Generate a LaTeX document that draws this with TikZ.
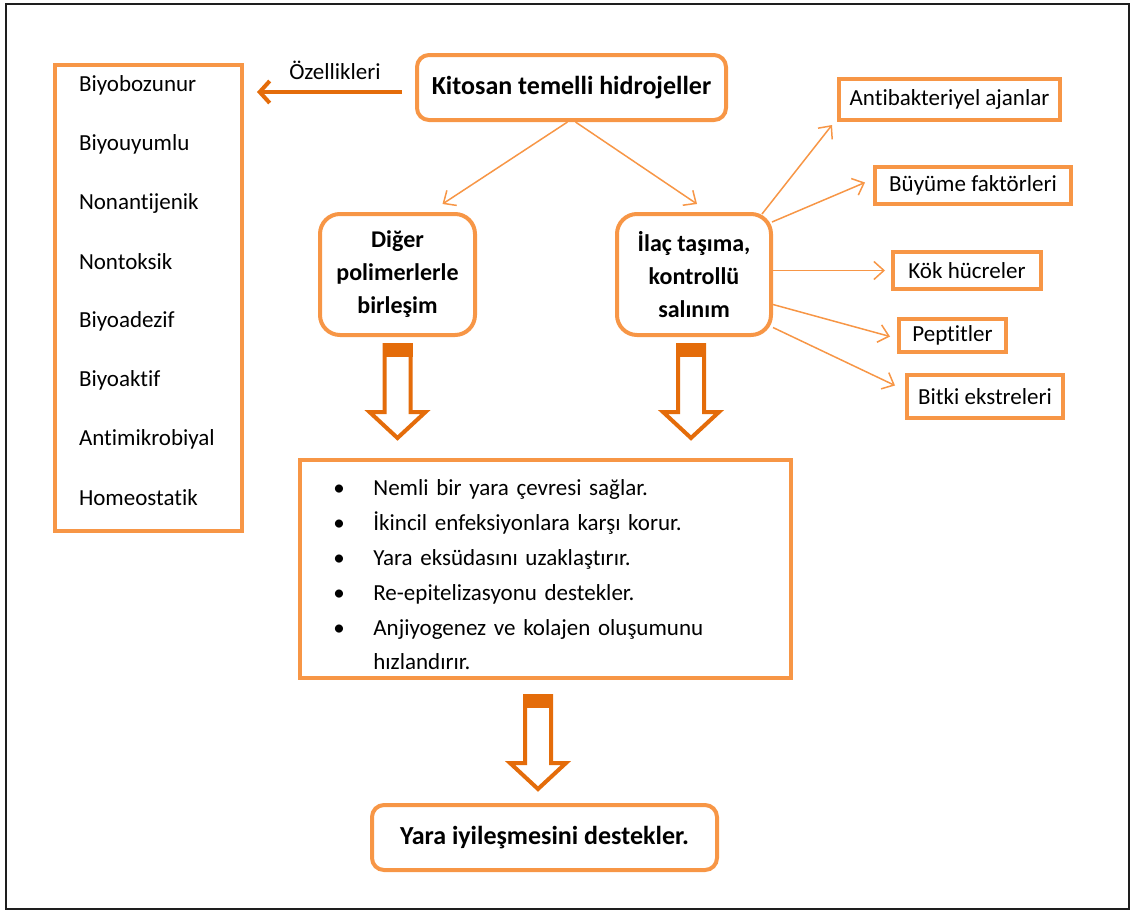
\documentclass[tikz,border=0pt]{standalone}
\usepackage{fontspec}
\setmainfont{Carlito}[Ligatures=NoCommon]
\usepackage{tikz}
\usetikzlibrary{positioning,calc,arrows.meta}
\definecolor{myorange}{RGB}{247,150,70}
\definecolor{darkorange}{RGB}{228,108,10}
\definecolor{framegray}{RGB}{30,30,30}

% hollow block arrow pointing down, #1 = top of the arrow
\newcommand{\hollowdown}[1]{%
\draw[blockarrow] (#1) ++(-13,0) -- ++(0,67) -- ++(-15,0) -- ++(28,26) -- ++(28,-26) -- ++(-15,0) -- ++(0,-67) -- cycle;
\fill[darkorange] (#1) ++(-15,-2) rectangle ++(30,14);}

\begin{document}
\begin{tikzpicture}[x=0.5pt,y=-0.5pt,
box/.style={draw=myorange,line width=2pt,rectangle,inner sep=2pt,font=\fontsize{11.5}{14}\selectfont},
roundbox/.style={draw=myorange,line width=2pt,rectangle,rounded corners=6pt,align=center},
item/.style={on grid,inner sep=0pt,text width=80pt,align=left,font=\fontsize{11.5}{14}\selectfont},
edge/.style={draw=myorange,line width=0.75pt,-{Straight Barb[length=5pt,width=9pt]}},
bigedge/.style={draw=darkorange,line width=2pt,-{Straight Barb[length=5pt,width=11pt]}},
blockarrow/.style={draw=darkorange,line width=2pt,fill=white,line join=miter}]

\useasboundingbox (0,0) rectangle (1131,911);
\draw[framegray,line width=1.2pt] (6,4) rectangle (1129,909);

% main nodes
\node[roundbox,minimum width=154.5pt,minimum height=32.5pt,font=\fontsize{13}{16}\selectfont\bfseries](kit) at (571.5,87.5){Kitosan temelli hidrojeller};
\node[roundbox,rounded corners=10pt,minimum width=77.5pt,minimum height=60.5pt,font=\fontsize{12}{16.5}\selectfont\bfseries](dig) at (397.5,274.5){Diğer\\polimerlerle\\birleşim};
\node[roundbox,rounded corners=10pt,minimum width=77pt,minimum height=60.5pt,font=\fontsize{12}{16.5}\selectfont\bfseries](ilac) at (694,274.5){İlaç taşıma,\\kontrollü\\salınım};
\node[roundbox,minimum width=172.5pt,minimum height=32.5pt,font=\fontsize{13}{16}\selectfont\bfseries](final) at (544.5,837.5){Yara iyileşmesini destekler.};

% properties
\node[box,minimum width=93.5pt,minimum height=233pt](props) at (148.5,298){};
\node[item](p1) at (159,85){Biyobozunur};
\node[item,below=29.5pt of p1](p2){Biyouyumlu};
\node[item,below=29.5pt of p2](p3){Nonantijenik};
\node[item,below=29.5pt of p3](p4){Nontoksik};
\node[item,below=29.5pt of p4](p5){Biyoadezif};
\node[item,below=29.5pt of p5](p6){Biyoaktif};
\node[item,below=29.5pt of p6](p7){Antimikrobiyal};
\node[item,below=29.5pt of p7](p8){Homeostatik};

% carried agents
\node[box,minimum width=110.5pt,minimum height=20.5pt](anti) at (949.5,99.5){Antibakteriyel ajanlar};
\node[box,minimum width=98pt,minimum height=18.5pt](buy) at (973,185.5){Büyüme faktörleri};
\node[box,minimum width=74pt,minimum height=18.5pt](kok) at (967,270.5){Kök hücreler};
\node[box,minimum width=53.5pt,minimum height=16.5pt](pep) at (952.5,335.5){Peptitler};
\node[box,minimum width=78pt,minimum height=21.5pt](bit) at (985,396.5){Bitki ekstreleri};

% effects
\node[box,minimum width=245.5pt,minimum height=109pt](effects) at (545.5,569){};
\node[anchor=west,inner sep=0pt,text width=210pt,align=left,font=\fontsize{11.5}{17.4}\selectfont](efftext) at (333,575){%
\makebox[20pt][l]{\textbullet}Nemli bir yara çevresi sağlar.\\
\makebox[20pt][l]{\textbullet}İkincil enfeksiyonlara karşı korur.\\
\makebox[20pt][l]{\textbullet}Yara eksüdasını uzaklaştırır.\\
\makebox[20pt][l]{\textbullet}Re-epitelizasyonu destekler.\\
\makebox[20pt][l]{\textbullet}Anjiyogenez ve kolajen oluşumunu\\
\hspace*{20pt}hızlandırır.};

% arrows
\coordinate (ozstart) at ($(kit.west)+(-13,4.5)$);
\draw[bigedge,shorten >=6.5pt] (ozstart) -- (ozstart -| props.east);
\node[inner sep=0pt,font=\fontsize{11.5}{14}\selectfont](ozlabel) at (335,70){Özellikleri};

\draw[edge] ([xshift=-2pt]kit.south) -- ($(dig.north)+(45,-8)$);
\draw[edge] ([xshift=2pt]kit.south) -- ($(ilac.north)+(3,-8)$);

\draw[edge] ($(ilac.north east)+(-11,2)$) -- ($(anti.south west)+(-5,3)$);
\draw[edge] ($(ilac.north east)+(-1,10)$) -- ($(buy.west)+(-8,-3)$);
\draw[edge] ($(ilac.east)+(0,-4)$) -- ($(kok.west)+(-6,0)$);
\draw[edge] ($(ilac.east)+(0,30)$) -- ($(pep.west)+(-7,1)$);
\draw[edge] ($(ilac.east)+(0,53)$) -- ($(bit.west)+(-10,-11)$);

\hollowdown{$(dig.south)+(0,8)$}
\hollowdown{$(ilac.south)+(-3,8)$}
\hollowdown{$(effects.south)+(-7.5,16)$}
\end{tikzpicture}
\end{document}
